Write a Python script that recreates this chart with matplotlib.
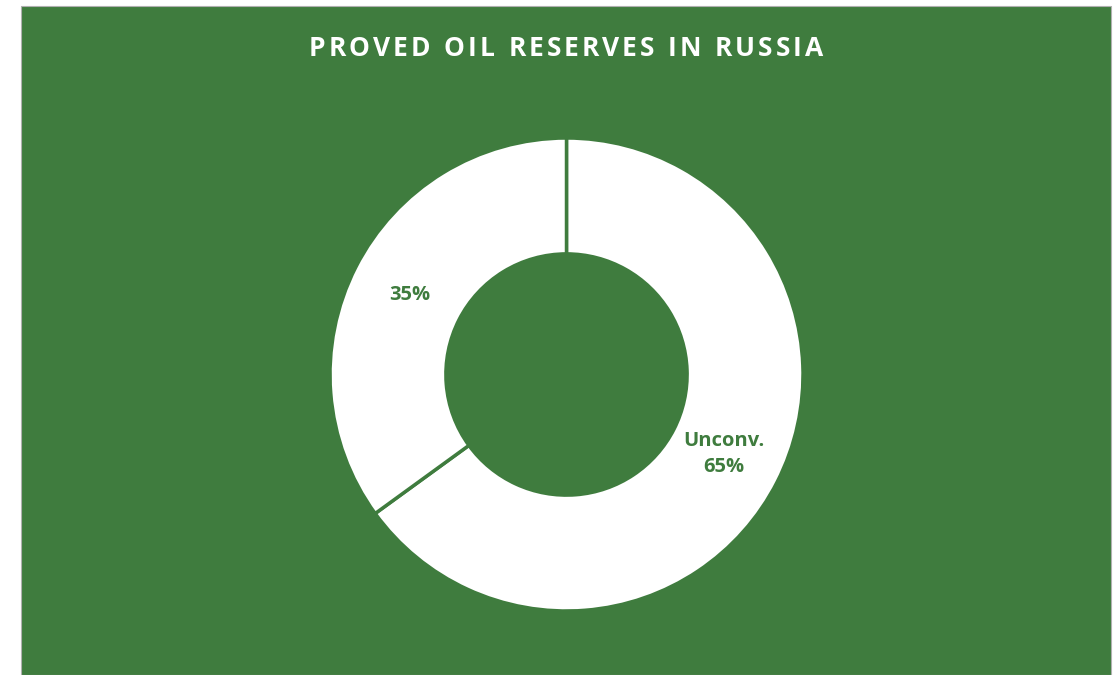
import numpy as np
import matplotlib
matplotlib.use("Agg")
import matplotlib.pyplot as plt
from matplotlib.patches import Rectangle

# data
categories = ["Unconv.", ""]
shares = [65, 35]
title = "PROVED OIL RESERVES IN RUSSIA"

green = "#3f7c3e"
W, H = 1117, 675

fig = plt.figure(figsize=(W / 100, H / 100), dpi=100)
fig.patch.set_facecolor("white")

# green chart area (white strip left / top like the original)
fig.patches.append(Rectangle((21 / W, 0), 1090 / W, 669 / H,
                             transform=fig.transFigure, facecolor=green,
                             edgecolor="#b0b0b0", linewidth=0.8, zorder=-5))

# title with extra letter spacing (Excel style)
renderer = fig.canvas.get_renderer()
tfont = dict(color="white", fontsize=19, fontweight="bold", family="Open Sans")
spacing = 3.0  # px between letters
widths = []
for ch in title:
    t = fig.text(0, 0, ch if ch != " " else "n", **tfont)
    wpx = t.get_window_extent(renderer).width
    if ch == " ":
        wpx *= 0.45
    widths.append(wpx)
    t.remove()
total = sum(widths) + spacing * (len(title) - 1)
x = 566 - total / 2
for ch, wpx in zip(title, widths):
    if ch != " ":
        fig.text(x / W, 1 - 48 / H, ch, ha="left", va="center", **tfont)
    x += wpx + spacing

ax = fig.add_axes([330 / W, 64 / H, 473 / W, 473 / H])
ax.set_facecolor("none")
wedges, _ = ax.pie(shares, startangle=90, counterclock=False,
                   colors=["white", "white"],
                   wedgeprops=dict(width=0.49, edgecolor=green, linewidth=2.5))
ax.set_xlim(-1, 1)
ax.set_ylim(-1, 1)
ax.axis("off")

# labels in the middle of the ring
for w, cat, val in zip(wedges, categories, shares):
    mid = np.deg2rad((w.theta1 + w.theta2) / 2)
    r = 0.745
    txt = f"{cat}\n{val}%" if cat else f"{val}%"
    ax.text(r * np.cos(mid), r * np.sin(mid), txt, ha="center", va="center",
            color=green, fontsize=14.5, fontweight="bold", family="Open Sans",
            linespacing=1.4)

fig.savefig("out.png", dpi=100)
